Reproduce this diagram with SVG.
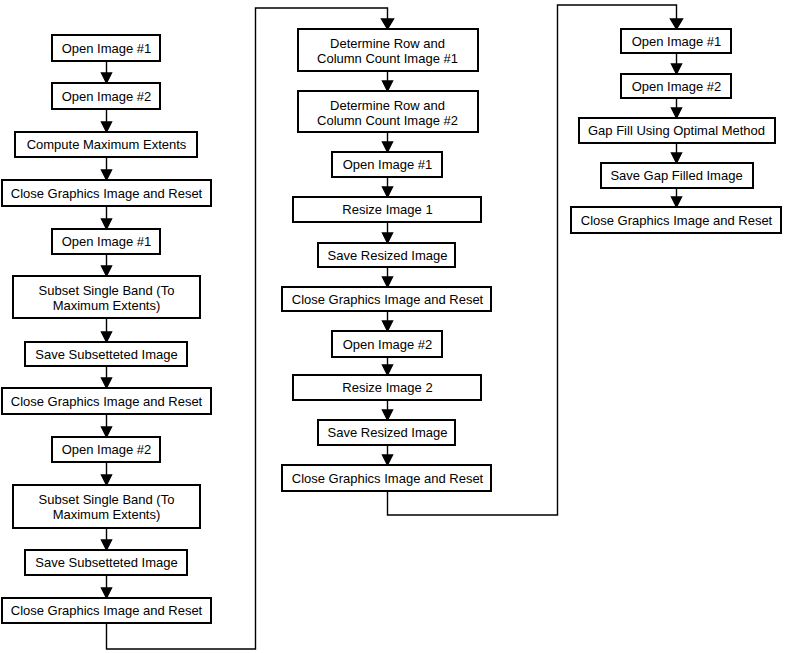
<svg xmlns="http://www.w3.org/2000/svg" width="785" height="653" viewBox="0 0 785 653">
<style>
.box{fill:#fff;stroke:#000;stroke-width:2}
.t{font-family:"Liberation Sans",Arial,sans-serif;font-size:13px;fill:#000;text-anchor:middle}
.c{fill:none;stroke:#000;stroke-width:1.4}
</style>
<defs>
<marker id="ah" markerUnits="userSpaceOnUse" markerWidth="12" markerHeight="11" refX="5" refY="10" orient="auto" viewBox="0 0 10 10" overflow="visible">
<path d="M0,0 L10,0 L5,10 Z" fill="#000" transform="rotate(-90 5 5)"/>
</marker>
</defs>
<rect width="785" height="653" fill="#fff"/>
<g id="connectors">
<g fill="#000" stroke="#000" stroke-width="1.4">
<!-- col1 -->
<line x1="106.5" y1="61" x2="106.5" y2="74"/><path d="M101.5,73 L111.5,73 L106.5,83 Z"/>
<line x1="106.5" y1="109" x2="106.5" y2="123"/><path d="M101.5,122 L111.5,122 L106.5,132 Z"/>
<line x1="106.5" y1="157" x2="106.5" y2="171"/><path d="M101.5,170 L111.5,170 L106.5,180 Z"/>
<line x1="106.5" y1="206" x2="106.5" y2="220"/><path d="M101.5,219 L111.5,219 L106.5,229 Z"/>
<line x1="106.5" y1="254" x2="106.5" y2="267"/><path d="M101.5,266 L111.5,266 L106.5,276 Z"/>
<line x1="106.5" y1="318" x2="106.5" y2="333"/><path d="M101.5,332 L111.5,332 L106.5,342 Z"/>
<line x1="106.5" y1="366" x2="106.5" y2="379"/><path d="M101.5,378 L111.5,378 L106.5,388 Z"/>
<line x1="106.5" y1="414" x2="106.5" y2="428"/><path d="M101.5,427 L111.5,427 L106.5,437 Z"/>
<line x1="106.5" y1="462" x2="106.5" y2="476"/><path d="M101.5,475 L111.5,475 L106.5,485 Z"/>
<line x1="106.5" y1="528" x2="106.5" y2="541"/><path d="M101.5,540 L111.5,540 L106.5,550 Z"/>
<line x1="106.5" y1="575" x2="106.5" y2="589"/><path d="M101.5,588 L111.5,588 L106.5,598 Z"/>
<!-- col2 -->
<line x1="387.5" y1="71" x2="387.5" y2="82"/><path d="M382.5,81 L392.5,81 L387.5,91 Z"/>
<line x1="387.5" y1="132" x2="387.5" y2="143"/><path d="M382.5,142 L392.5,142 L387.5,152 Z"/>
<line x1="387.5" y1="177" x2="387.5" y2="188"/><path d="M382.5,187 L392.5,187 L387.5,197 Z"/>
<line x1="387.5" y1="222" x2="387.5" y2="234"/><path d="M382.5,233 L392.5,233 L387.5,243 Z"/>
<line x1="387.5" y1="267" x2="387.5" y2="278"/><path d="M382.5,277 L392.5,277 L387.5,287 Z"/>
<line x1="387.5" y1="311" x2="387.5" y2="322"/><path d="M382.5,321 L392.5,321 L387.5,331 Z"/>
<line x1="387.5" y1="357" x2="387.5" y2="366"/><path d="M382.5,365 L392.5,365 L387.5,375 Z"/>
<line x1="387.5" y1="400" x2="387.5" y2="411"/><path d="M382.5,410 L392.5,410 L387.5,420 Z"/>
<line x1="387.5" y1="445" x2="387.5" y2="456"/><path d="M382.5,455 L392.5,455 L387.5,465 Z"/>
<!-- col3 -->
<line x1="676.5" y1="53" x2="676.5" y2="65"/><path d="M671.5,64 L681.5,64 L676.5,74 Z"/>
<line x1="676.5" y1="98" x2="676.5" y2="109"/><path d="M671.5,108 L681.5,108 L676.5,118 Z"/>
<line x1="676.5" y1="143" x2="676.5" y2="154"/><path d="M671.5,153 L681.5,153 L676.5,163 Z"/>
<line x1="676.5" y1="188" x2="676.5" y2="198"/><path d="M671.5,197 L681.5,197 L676.5,207 Z"/>
<!-- cross-column -->
<path d="M381.5,19 L393.5,19 L387.5,29 Z"/>
<path d="M670.5,19 L682.5,19 L676.5,29 Z"/>
</g>
<polyline class="c" points="106.5,623 106.5,649 255.5,649 255.5,8 387.5,8 387.5,20"/>
<polyline class="c" points="387.5,491 387.5,515 557.5,515 557.5,5 676.5,5 676.5,20"/>
</g>
<g id="n1"><rect class="box" x="52" y="35" width="108" height="26"/><text class="t" x="106.5" y="52.5">Open Image #1</text></g>
<g id="n2"><rect class="box" x="52" y="83" width="108" height="26"/><text class="t" x="106.5" y="100.5">Open Image #2</text></g>
<g id="n3"><rect class="box" x="15" y="132" width="182" height="25"/><text class="t" x="106.5" y="149">Compute Maximum Extents</text></g>
<g id="n4"><rect class="box" x="2" y="180" width="209" height="26"/><text class="t" x="106.5" y="197.5">Close Graphics Image and Reset</text></g>
<g id="n5"><rect class="box" x="52" y="229" width="108" height="25"/><text class="t" x="106.5" y="246">Open Image #1</text></g>
<g id="n6"><rect class="box" x="13" y="276" width="187" height="42"/><text class="t" x="106.5" y="295">Subset Single Band (To</text><text class="t" x="106.5" y="310">Maximum Extents)</text></g>
<g id="n7"><rect class="box" x="25" y="342" width="162" height="24"/><text class="t" x="106.5" y="358.5">Save Subsetteted Image</text></g>
<g id="n8"><rect class="box" x="2" y="388" width="209" height="26"/><text class="t" x="106.5" y="405.5">Close Graphics Image and Reset</text></g>
<g id="n9"><rect class="box" x="52" y="437" width="108" height="25"/><text class="t" x="106.5" y="454">Open Image #2</text></g>
<g id="n10"><rect class="box" x="13" y="485" width="187" height="43"/><text class="t" x="106.5" y="504">Subset Single Band (To</text><text class="t" x="106.5" y="519">Maximum Extents)</text></g>
<g id="n11"><rect class="box" x="25" y="550" width="162" height="25"/><text class="t" x="106.5" y="567">Save Subsetteted Image</text></g>
<g id="n12"><rect class="box" x="2" y="598" width="209" height="25"/><text class="t" x="106.5" y="615">Close Graphics Image and Reset</text></g>
<g id="n13"><rect class="box" x="298" y="29" width="180" height="42"/><text class="t" x="387.5" y="48">Determine Row and</text><text class="t" x="387.5" y="63">Column Count Image #1</text></g>
<g id="n14"><rect class="box" x="298" y="91" width="180" height="41"/><text class="t" x="387.5" y="109.5">Determine Row and</text><text class="t" x="387.5" y="124.5">Column Count Image #2</text></g>
<g id="n15"><rect class="box" x="332" y="152" width="110" height="25"/><text class="t" x="387.5" y="169">Open Image #1</text></g>
<g id="n16"><rect class="box" x="293" y="197" width="188" height="25"/><text class="t" x="387.5" y="214">Resize Image 1</text></g>
<g id="n17"><rect class="box" x="318" y="243" width="137" height="24"/><text class="t" x="387.5" y="259.5">Save Resized Image</text></g>
<g id="n18"><rect class="box" x="282" y="287" width="209" height="24"/><text class="t" x="387.5" y="303.5">Close Graphics Image and Reset</text></g>
<g id="n19"><rect class="box" x="332" y="331" width="110" height="26"/><text class="t" x="387.5" y="348.5">Open Image #2</text></g>
<g id="n20"><rect class="box" x="293" y="375" width="188" height="25"/><text class="t" x="387.5" y="392">Resize Image 2</text></g>
<g id="n21"><rect class="box" x="318" y="420" width="137" height="25"/><text class="t" x="387.5" y="437">Save Resized Image</text></g>
<g id="n22"><rect class="box" x="282" y="465" width="209" height="26"/><text class="t" x="387.5" y="482.5">Close Graphics Image and Reset</text></g>
<g id="n23"><rect class="box" x="621" y="29" width="110" height="24"/><text class="t" x="676.5" y="45.5">Open Image #1</text></g>
<g id="n24"><rect class="box" x="621" y="74" width="110" height="24"/><text class="t" x="676.5" y="90.5">Open Image #2</text></g>
<g id="n25"><rect class="box" x="579" y="118" width="196" height="25"/><text class="t" x="676.5" y="135">Gap Fill Using Optimal Method</text></g>
<g id="n26"><rect class="box" x="601" y="163" width="152" height="25"/><text class="t" x="676.5" y="180">Save Gap Filled Image</text></g>
<g id="n27"><rect class="box" x="571" y="207" width="210" height="26"/><text class="t" x="676.5" y="224.5">Close Graphics Image and Reset</text></g>
</svg>
